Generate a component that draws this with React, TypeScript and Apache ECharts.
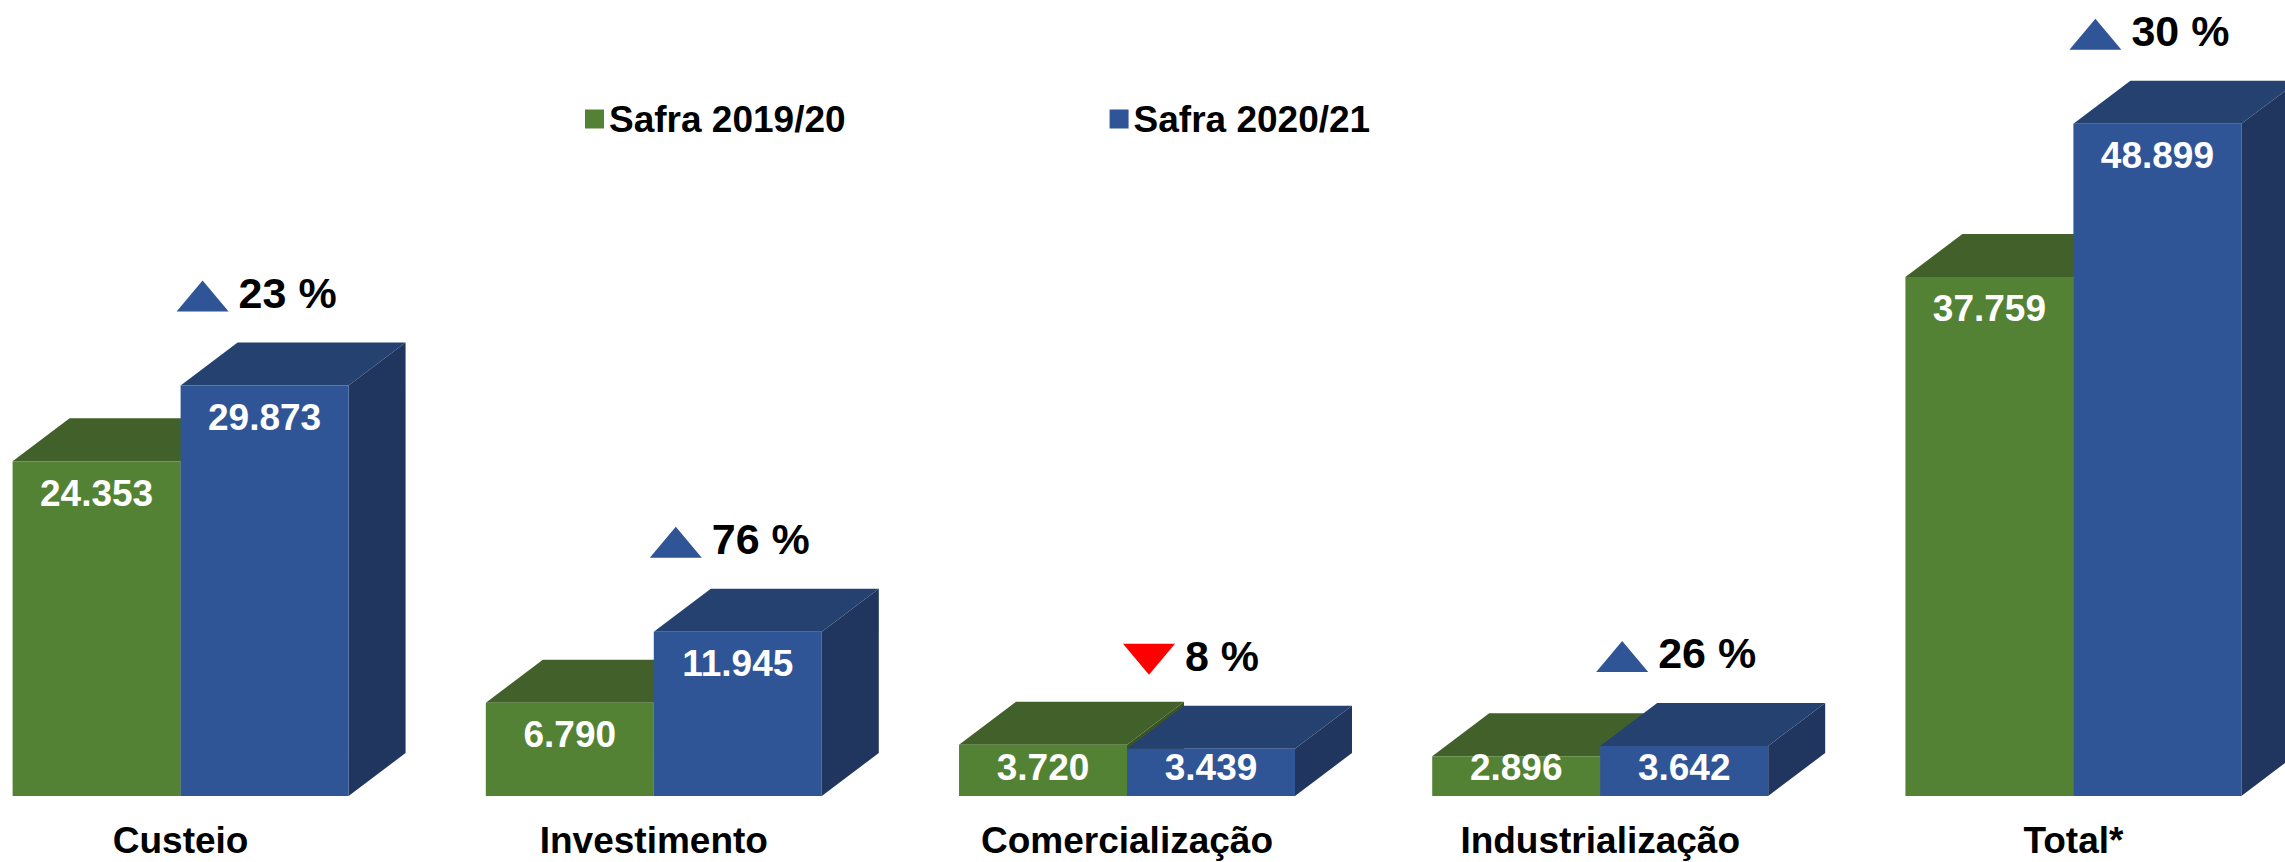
import React, { useEffect, useRef } from 'react';
import * as echarts from 'echarts';

const categories = ['Custeio', 'Investimento', 'Comercialização', 'Industrialização', 'Total*'];
const seriesNames = ['Safra 2019/20', 'Safra 2020/21'];
const safra1920 = [24353, 6790, 3720, 2896, 37759];
const safra2021 = [29873, 11945, 3439, 3642, 48899];
const variacao = [23, 76, -8, 26, 30];

const FONT = '"Liberation Sans", Arial, Helvetica, sans-serif';
const DX = 57;
const DY = 43;
const SHIFT = 56;

const GREEN = { front: '#548235', top: '#42602A', side: '#3A5424' };
const BLUE = { front: '#2F5597', top: '#25416F', side: '#20365E' };

const fmt = (v: number) => String(Math.round(v)).replace(/\B(?=(\d{3})+(?!\d))/g, '.');

const makeBarRender = (side: number, colors: { front: string; top: string; side: string }) =>
  (params: any, api: any) => {
    const idx = api.value(0);
    const val = api.value(1);
    const base = api.coord([idx, 0]);
    const top = api.coord([idx, val]);
    const bw = api.size([1, 0])[0] * 0.355;
    const x0 = side < 0 ? base[0] - bw : base[0];
    const x1 = x0 + bw;
    const yB = base[1];
    const yT = top[1];
    const labelY = Math.min(yT + 32, yB - 29);
    return {
      type: 'group',
      children: [
        {
          type: 'polygon',
          shape: { points: [[x1, yT], [x1 + DX, yT - DY], [x1 + DX, yB - DY], [x1, yB]] },
          style: { fill: colors.side },
        },
        {
          type: 'polygon',
          shape: { points: [[x0, yT], [x0 + DX, yT - DY], [x1 + DX, yT - DY], [x1, yT]] },
          style: { fill: colors.top },
        },
        {
          type: 'rect',
          shape: { x: x0, y: yT, width: bw, height: yB - yT },
          style: { fill: colors.front },
        },
        {
          type: 'text',
          x: (x0 + x1) / 2,
          y: labelY,
          style: {
            text: fmt(val),
            fill: '#FFFFFF',
            fontSize: 37,
            fontWeight: 'bold',
            fontFamily: FONT,
            align: 'center',
            verticalAlign: 'middle',
          },
        },
      ],
    };
  };

const renderVariation = (params: any, api: any) => {
  const idx = api.value(0);
  const blueVal = api.value(1);
  const pct = api.value(2);
  const c = api.coord([idx, blueVal]);
  const cx = c[0] + 22;
  const bottom = c[1] - DY - 31;
  const up = pct >= 0;
  const hw = 26;
  const h = 31;
  const pts = up
    ? [[cx - hw, bottom], [cx + hw, bottom], [cx, bottom - h]]
    : [[cx - hw, bottom - h], [cx + hw, bottom - h], [cx, bottom]];
  return {
    type: 'group',
    children: [
      { type: 'polygon', shape: { points: pts }, style: { fill: up ? '#2F5597' : '#FF0000' } },
      {
        type: 'text',
        x: cx + hw + 10,
        y: bottom - h / 2 - 3,
        style: {
          text: `${Math.abs(pct)} %`,
          fill: '#000000',
          fontSize: 43,
          fontWeight: 'bold',
          fontFamily: FONT,
          align: 'left',
          verticalAlign: 'middle',
        },
      },
    ],
  };
};

export default function App() {
  const ref = useRef<HTMLDivElement>(null);
  useEffect(() => {
    if (!ref.current) return;
    const chart = echarts.init(ref.current, undefined, { renderer: 'svg' });
    chart.setOption({
      animation: false,
      backgroundColor: '#FFFFFF',
      grid: { left: 0, right: 0, top: 40, bottom: 63, containLabel: false },
      legend: {
        data: seriesNames,
        left: 580 + SHIFT,
        top: 94,
        icon: 'rect',
        itemWidth: 19,
        itemHeight: 19,
        itemGap: 264,
        selectedMode: false,
        textStyle: {
          fontSize: 37,
          fontWeight: 'bold',
          color: '#000000',
          fontFamily: FONT,
          lineHeight: 40,
        },
      },
      xAxis: {
        type: 'category',
        data: categories,
        axisLine: { show: false },
        axisTick: { show: false },
        axisLabel: {
          interval: 0,
          margin: 22,
          fontSize: 37,
          fontWeight: 'bold',
          color: '#000000',
          fontFamily: FONT,
          lineHeight: 44,
        },
      },
      yAxis: {
        type: 'value',
        min: 0,
        max: 55000,
        show: false,
        splitLine: { show: false },
      },
      series: [
        {
          name: seriesNames[0],
          type: 'custom',
          z: 2,
          itemStyle: { color: GREEN.front },
          encode: { x: 0, y: 1 },
          data: safra1920.map((v, i) => [i, v]),
          renderItem: makeBarRender(-1, GREEN),
        },
        {
          name: seriesNames[1],
          type: 'custom',
          z: 3,
          itemStyle: { color: BLUE.front },
          encode: { x: 0, y: 1 },
          data: safra2021.map((v, i) => [i, v]),
          renderItem: makeBarRender(1, BLUE),
        },
        {
          name: 'Variação',
          type: 'custom',
          z: 4,
          encode: { x: 0, y: 1 },
          data: safra2021.map((v, i) => [i, v, variacao[i]]),
          renderItem: renderVariation,
        },
      ],
    });
    return () => chart.dispose();
  }, []);
  return (
    <div
      style={{
        position: 'absolute',
        left: 0,
        top: 0,
        width: 2285,
        height: 862,
        overflow: 'hidden',
        background: '#FFFFFF',
      }}
    >
      <div
        ref={ref}
        style={{ position: 'absolute', left: -SHIFT, top: 0, width: 2366, height: 862 }}
      />
    </div>
  );
}
